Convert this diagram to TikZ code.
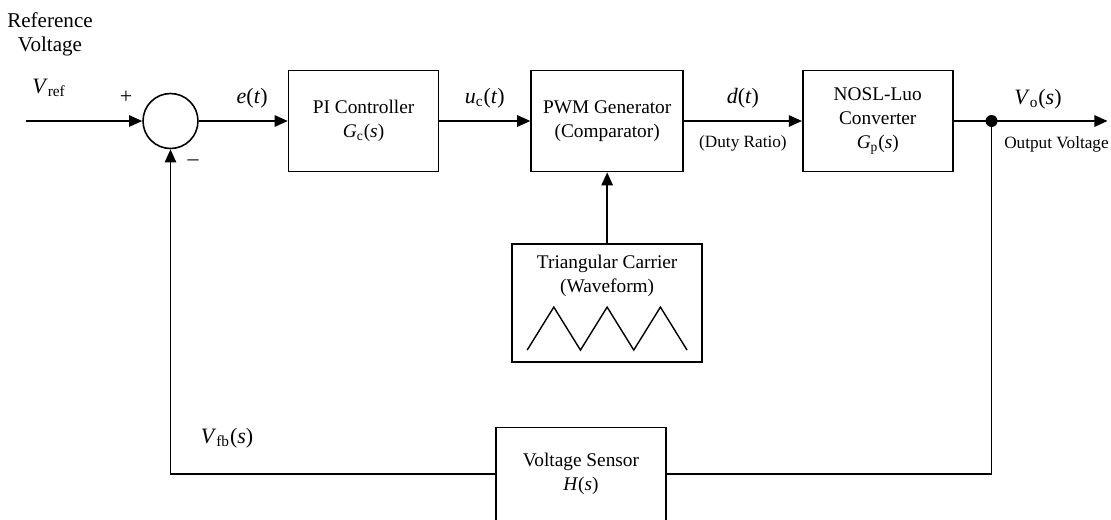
\documentclass[tikz,border=0pt]{standalone}
\usepackage{amsmath}
\usepackage{fontspec}
\setmainfont{Liberation Serif}
\usetikzlibrary{arrows.meta,calc,positioning}
\newcommand{\vsym}[1]{\textit{#1\/}}
\newcommand{\vsub}[1]{$_{\text{#1}}$}

\begin{document}
\begin{tikzpicture}[>={Triangle[length=7.5pt,width=6.5pt]},line width=0.9pt,
    node distance=1.8cm,font=\fontsize{11}{13.5}\selectfont,
    box/.style={draw,align=center,minimum width=3cm,minimum height=2.02cm,inner sep=2pt},
    sumnode/.style={draw,circle,minimum size=1.1cm,inner sep=0pt},
    sig/.style={inner sep=1pt,font=\fontsize{12.5}{14}\selectfont},
    note/.style={inner sep=1pt,font=\fontsize{9.8}{12}\selectfont}]
    \useasboundingbox (0,0) rectangle (22.22,-10.38);
    % forward path
    \node[sumnode] (sum) at (3.41,-2.42) {};
    \coordinate (in) at (0.52,-2.42);
    \node[box,right=1.78cm of sum] (pi) {PI Controller\\\vsym{G}\vsub{c}(\vsym{s})};
    \node[box,minimum width=3.04cm,right=1.82cm of pi] (pwm) {PWM Generator\\(Comparator)};
    \node[box,right=2.36cm of pwm] (luo) {NOSL-Luo\\Converter\\\vsym{G}\vsub{p}(\vsym{s})};
    \coordinate[right=0.76cm of luo] (tap);
    \coordinate[right=2.32cm of tap] (out);
    % carrier and sensor
    \node[box,minimum width=3.8cm,minimum height=2.36cm,below=1.42cm of pwm] (carrier) {};
    \node[align=center] (carrierText) at ($(carrier.center)+(0,0.55)$) {Triangular Carrier\\(Waveform)};
    \node[box,minimum width=3.4cm,minimum height=1.86cm] (sensor) at (11.62,-9.48) {Voltage Sensor\\\vsym{H}(\vsym{s})};
    % labels
    \node[align=center,font=\fontsize{12}{13.5}\selectfont] (refText) at (1.0,-0.68) {Reference\\Voltage};
    \node[sig] (vref) at (0.98,-1.76) {\vsym{V}\vsub{ref}};
    \node[sig] (plus) at (2.52,-1.94) {+};
    \node[sig] (minus) at (3.86,-3.26) {--};
    \node[sig] (vfb) at (4.54,-8.76) {\vsym{V}\vsub{fb}(\vsym{s})};
    % connectors
    \draw[->] (in) -- (sum);
    \draw[->] (sum) -- node[sig,above=0.2cm,pos=0.6] {\vsym{e}(\vsym{t})} (pi);
    \draw[->] (pi) -- node[sig,above=0.2cm] {\vsym{u}\vsub{c}(\vsym{t})} (pwm);
    \draw[->] (pwm) -- node[sig,above=0.2cm] {\vsym{d}(\vsym{t})} node[note,below=0.24cm] {(Duty Ratio)} (luo);
    \draw (luo) -- (tap);
    \draw[->] (tap) -- node[sig,above=0.18cm,pos=0.4] {\vsym{V}\vsub{o}(\vsym{s})}
      node[note,below=0.26cm,pos=0.56] {Output Voltage} (out);
    \fill (tap) circle (0.12);
    \draw[->] (carrier) -- (pwm);
    \draw (tap) |- (sensor.east);
    \draw[->] (sensor.west) -| (sum.south);
    % triangular waveform
    \draw[line width=0.8pt] ($(carrier.center)+(-1.6,-0.94)$)
      \foreach \i in {1,...,3} {-- ++(0.533,0.86) -- ++(0.533,-0.86)};
\end{tikzpicture}
\end{document}
